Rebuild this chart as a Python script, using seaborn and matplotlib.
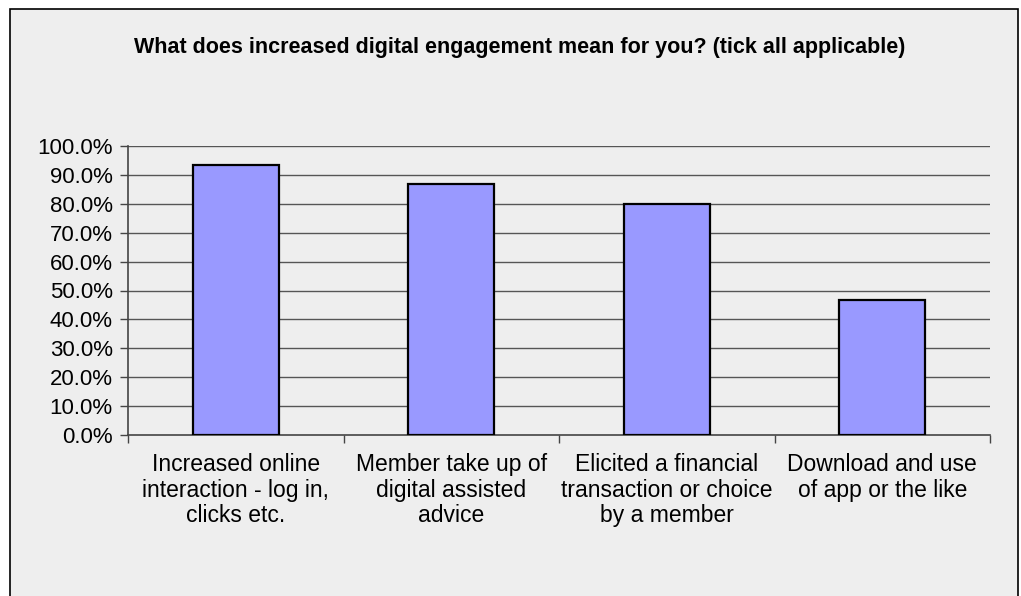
import matplotlib
matplotlib.use("Agg")
import matplotlib.pyplot as plt
from matplotlib.patches import Rectangle
from matplotlib.ticker import FuncFormatter, FixedLocator
import seaborn as sns
import pandas as pd

categories = [
    "Increased online\ninteraction - log in,\nclicks etc.",
    "Member take up of\ndigital assisted\nadvice",
    "Elicited a financial\ntransaction or choice\nby a member",
    "Download and use\nof app or the like",
]
shares = [93.3, 86.7, 80.0, 46.7]
y_ticks = [0, 10, 20, 30, 40, 50, 60, 70, 80, 90, 100]
title = "What does increased digital engagement mean for you? (tick all applicable)"

sns.set_theme(style="white")
plt.rcParams["font.family"] = ["Liberation Sans", "DejaVu Sans"]

fig = plt.figure(figsize=(10.21, 5.96), dpi=100)
fig.patch.set_facecolor("white")

# chart area panel with black border (runs off the bottom edge)
panel = Rectangle((10 / 1021, -0.05), 1008 / 1021, 1 - 9 / 596 + 0.05,
                  transform=fig.transFigure, facecolor="#eeeeee",
                  edgecolor="black", linewidth=1.2, zorder=-10)
fig.patches.append(panel)

ax = fig.add_axes([128 / 1021, 1 - 435 / 596, (990 - 128) / 1021, (435 - 146) / 596])
ax.set_facecolor("none")

df = pd.DataFrame({"category": categories, "share": shares})
sns.barplot(data=df, x="category", y="share", color="#9999ff", saturation=1,
            width=0.4, edgecolor="black", linewidth=1.6, ax=ax, zorder=3)

ax.set_ylim(0, 100)
ax.set_xlim(-0.5, len(categories) - 0.5)
ax.set_yticks(y_ticks)
ax.yaxis.set_major_formatter(FuncFormatter(lambda v, p: f"{v:.1f}%"))
for v in y_ticks[1:]:
    ax.axhline(v, color="#555555", linewidth=1.0, zorder=1)

ax.set_xlabel("")
ax.set_ylabel("")
ax.tick_params(axis="x", which="major", length=0, labelsize=16.5, pad=13,
               colors="black")
ax.xaxis.set_minor_locator(FixedLocator([-0.5, 0.5, 1.5, 2.5, 3.5]))
ax.tick_params(axis="x", which="minor", length=6, width=1.0, color="#444444",
               direction="out", bottom=True)
ax.tick_params(axis="y", length=6, width=1.0, color="#444444", direction="out",
               left=True, labelsize=16, pad=5, colors="black")
for lbl in ax.get_xticklabels():
    lbl.set_linespacing(1.14)

for side in ["top", "right"]:
    ax.spines[side].set_visible(False)
for side in ["left", "bottom"]:
    ax.spines[side].set_color("#444444")
    ax.spines[side].set_linewidth(1.2)

fig.text(520 / 1021, 1 - 47 / 596, title, ha="center", va="center",
         fontsize=15.5, fontweight="bold", color="black")

fig.savefig("out.png", dpi=100)
